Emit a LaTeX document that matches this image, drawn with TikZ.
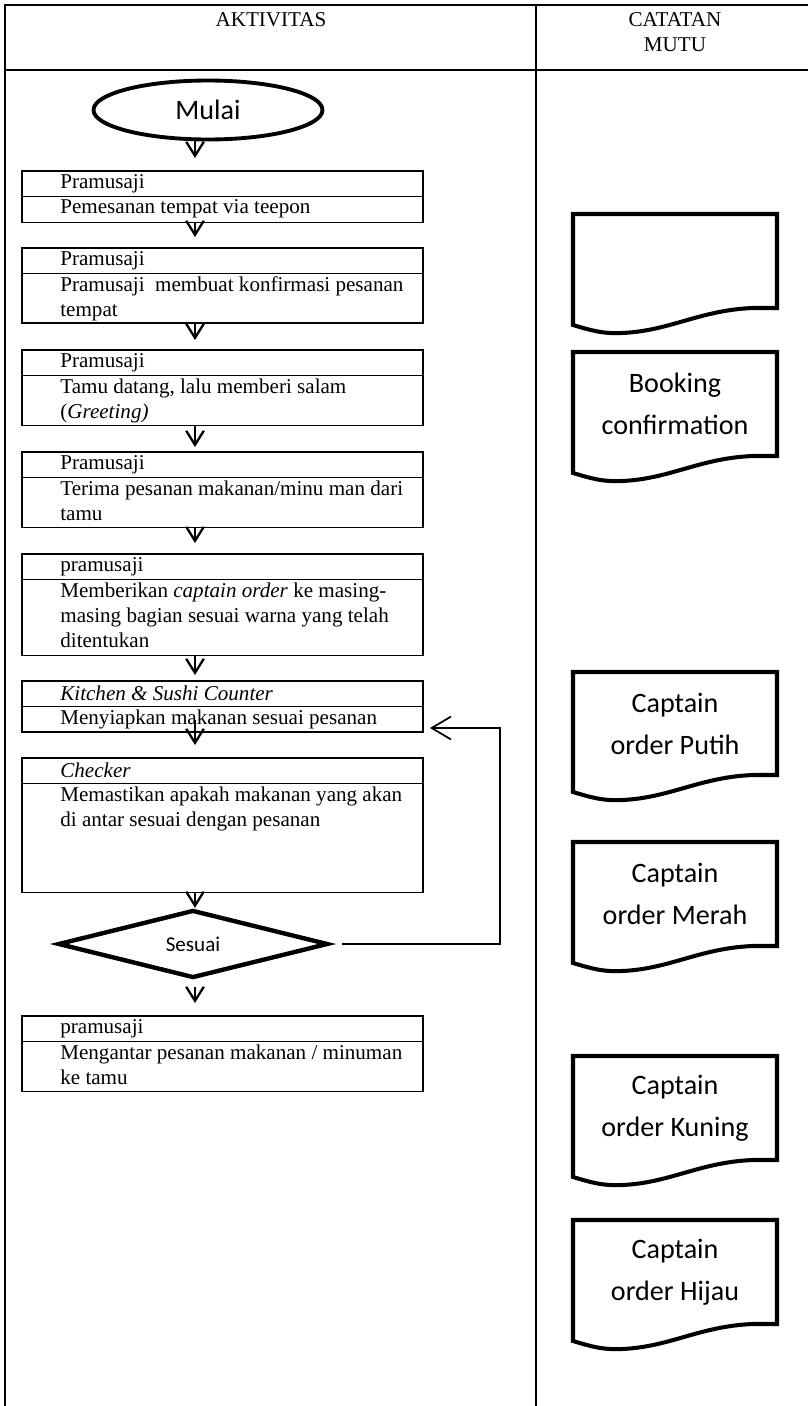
\documentclass[tikz,border=0pt]{standalone}
\usepackage{fontspec}
\setmainfont{Liberation Serif}
\newfontfamily\calibri{Carlito}
\usetikzlibrary{arrows.meta,shapes.geometric,calc}

\begin{document}
\begin{tikzpicture}[x=.02cm,y=-.02cm,font=\fontsize{12}{14.2}\selectfont,
  role/.style={draw,line width=1.1pt,minimum width=8.02cm,minimum height=.51cm,
    inner sep=0pt,outer sep=0pt,anchor=north west},
  task/.style={role,anchor=north},
  txt/.style={inner sep=0pt,align=left,anchor=north west},
  flow/.style={-{Straight Barb[length=8pt,width=10pt]},line width=1.3pt},
  back/.style={-{Straight Barb[length=11pt,width=13pt]},line width=1pt},
  doc/.style={line width=2.3pt,line join=miter},
  doctxt/.style={font=\calibri\fontsize{16}{24}\selectfont,align=center}]
  \useasboundingbox (0,0) rectangle (808,1406);
  % table
  \draw[line width=1.3pt] (5,1406) -- (5,5) -- (808,5) (5,70) -- (808,70)
    (536,5) -- (536,1406);
  \node[anchor=north,inner sep=0pt] (hakt) at (271,12) {AKTIVITAS};
  \node[anchor=north,inner sep=0pt,align=center] (hmutu) at (675,12) {CATATAN\\MUTU};

  % activity column
  \node[ellipse,draw,line width=2.2pt,minimum width=4.58cm,minimum height=1.18cm,
    font=\calibri\fontsize{16}{19}\selectfont] (start) at (208,110) {Mulai};

  \node[role] (r1) at (22,171) {};
  \node[task,minimum height=.52cm] (t1) at (r1.south) {};
  \node[role] (r2) at (22,248) {};
  \node[task,minimum height=.99cm] (t2) at (r2.south) {};
  \node[role] (r3) at (22,350) {};
  \node[task,minimum height=1cm] (t3) at (r3.south) {};
  \node[role] (r4) at (22,452) {};
  \node[task,minimum height=1cm] (t4) at (r4.south) {};
  \node[role] (r5) at (22,554) {};
  \node[task,minimum height=1.52cm] (t5) at (r5.south) {};
  \node[role] (r6) at (22,681) {};
  \node[task,minimum height=.51cm] (t6) at (r6.south) {};
  \node[role] (r7) at (22,758) {};
  \node[task,minimum height=2.18cm] (t7) at (r7.south) {};
  \node[role] (r8) at (22,1016) {};
  \node[task,minimum height=1cm] (t8) at (r8.south) {};

  \node[txt,anchor=west] (w1) at ([xshift=.76cm]r1.west) {Pramusaji};
  \node[txt] (a1) at ([shift={(38,3)}]t1.north west) {Pemesanan tempat via teepon};
  \node[txt,anchor=west] (w2) at ([xshift=.76cm]r2.west) {Pramusaji};
  \node[txt] (a2) at ([shift={(38,3)}]t2.north west)
    {Pramusaji\ \ membuat konfirmasi pesanan\\tempat};
  \node[txt,anchor=west] (w3) at ([xshift=.76cm]r3.west) {Pramusaji};
  \node[txt] (a3) at ([shift={(38,3)}]t3.north west)
    {Tamu datang, lalu memberi salam\\(\textit{Greeting)}};
  \node[txt,anchor=west] (w4) at ([xshift=.76cm]r4.west) {Pramusaji};
  \node[txt] (a4) at ([shift={(38,3)}]t4.north west)
    {Terima pesanan makanan/minu man dari\\tamu};
  \node[txt,anchor=west] (w5) at ([xshift=.76cm]r5.west) {pramusaji};
  \node[txt] (a5) at ([shift={(38,3)}]t5.north west)
    {Memberikan \textit{captain order} ke masing-\\masing bagian sesuai warna yang telah\\ditentukan};
  \node[txt,anchor=west] (w6) at ([xshift=.76cm]r6.west) {\textit{Kitchen \& Sushi Counter}};
  \node[txt] (a6) at ([shift={(38,3)}]t6.north west) {Menyiapkan makanan sesuai pesanan};
  \node[txt,anchor=west] (w7) at ([xshift=.76cm]r7.west) {\textit{Checker}};
  \node[txt] (a7) at ([shift={(38,3)}]t7.north west)
    {Memastikan apakah makanan yang akan\\di antar sesuai dengan pesanan};
  \node[txt,anchor=west] (w8) at ([xshift=.76cm]r8.west) {pramusaji};
  \node[txt] (a8) at ([shift={(38,3)}]t8.north west)
    {Mengantar pesanan makanan / minuman\\ke tamu};

  \node[diamond,draw,line width=2.5pt,minimum width=5.4cm,minimum height=1.36cm,
    aspect=4,inner sep=0pt,font=\calibri\fontsize{12}{14}\selectfont] (dec) at (193,944) {Sesuai};

  % arrows
  \coordinate (ax) at (195,0);
  \draw[flow] (start.south -| ax) -- ($(r1.north -| ax)+(0,-13)$);
  \foreach \from/\to/\gap in {t1/r2/11,t2/r3/10,t3/r4/5,t4/r5/11,t5/r6/6}
    \draw[flow] (\from.south -| ax) -- ($(\to.north -| ax)+(0,-\gap)$);
  \draw[flow] ($(t6.south -| ax)+(0,-12)$) -- ($(r7.north -| ax)+(0,-13)$);
  \draw[flow] (t7.south -| ax) -- (dec.north -| ax);
  \draw[flow] ($(dec.south -| ax)+(0,7)$) -- ($(r8.north -| ax)+(0,-13)$);
  \coordinate (loop) at (500,728);
  \draw[back,shorten >=.14cm] ([xshift=.24cm]dec.east) -| (loop) -- (t6.east |- loop);

  % catatan mutu
  \foreach \ytop/\hh/\nm/\lab in {214/111/m1/{},352/121/m2/{Booking\\confirmation},
      672/120/m3/{Captain\\order Putih},842/121/m4/{Captain\\order Merah},
      1056/121/m5/{Captain\\order Kuning},1220/121/m6/{Captain\\order Hijau}}{
    \draw[doc] (573,\ytop) -- (777,\ytop) -- (777,\ytop+\hh-17) -- (753,\ytop+\hh-17)
      .. controls (700,\ytop+\hh-15) and (670,\ytop+\hh+6) .. (622,\ytop+\hh+8)
      .. controls (602,\ytop+\hh+9) and (590,\ytop+\hh+5) .. (573,\ytop+\hh) -- cycle;
    \node[doctxt] (\nm) at (675,\ytop+52) {\lab};
  }
\end{tikzpicture}
\end{document}
